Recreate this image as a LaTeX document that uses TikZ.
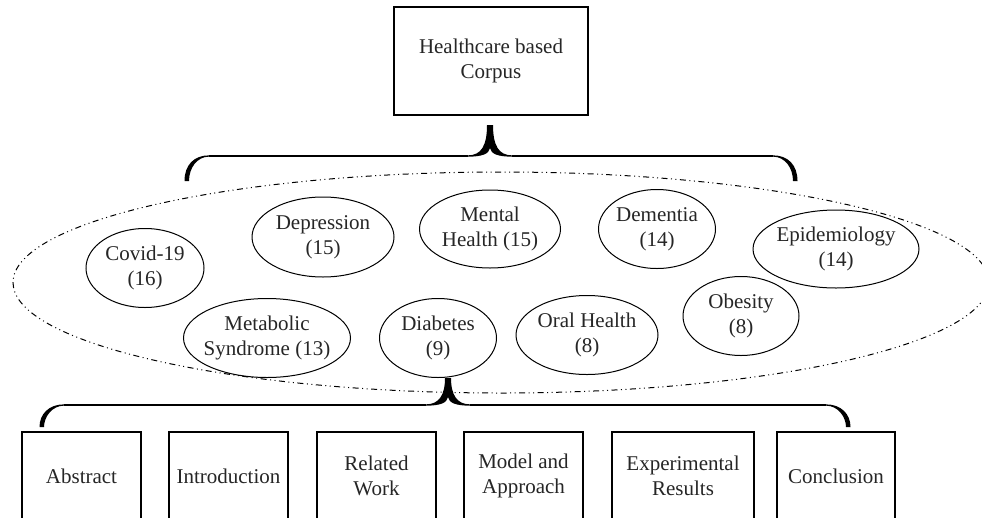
\documentclass[tikz,border=0pt]{standalone}
\usepackage{fontspec}
\setmainfont{Liberation Serif}
\usetikzlibrary{shapes.geometric}
% #1 left x, #2 right x, #3 cusp x, #4 line y, #5 tip y, #6 end y
\newcommand{\curlybrace}[6]{%
  \draw[braceline] (#1+24,#4) -- (#3-22,#4) (#3+22,#4) -- (#2-24,#4);
  \fill (#1+24,#4-0.65) .. controls (#1+9,#4-0.65) and (#1-0.5,#4+9) .. (#1-0.5,#6)
     -- (#1+4,#6) .. controls (#1+4,#4+12) and (#1+12,#4+0.65) .. (#1+24,#4+0.65) -- cycle;
  \fill (#2-24,#4-0.65) .. controls (#2-9,#4-0.65) and (#2+0.5,#4+9) .. (#2+0.5,#6)
     -- (#2-4,#6) .. controls (#2-4,#4+12) and (#2-12,#4+0.65) .. (#2-24,#4+0.65) -- cycle;
  \fill (#3-22,#4-0.65) .. controls (#3-9,#4-0.65) and (#3-3,#4-10) .. (#3-3,#5)
     -- (#3+3,#5) .. controls (#3+3,#4-10) and (#3+9,#4-0.65) .. (#3+22,#4-0.65)
     -- (#3+22,#4+0.65) .. controls (#3+8,#4+0.65) and (#3+1,#4-2) .. (#3,#4-8)
     .. controls (#3-1,#4-2) and (#3-8,#4+0.65) .. (#3-22,#4+0.65) -- cycle;
}
\tikzset{
  every node/.style={font=\fontsize{21}{25}\selectfont, text=black!85},
  box/.style={draw, line width=1.1pt, rectangle, inner sep=0pt, align=center},
  topic/.style n args={2}{draw, line width=1pt, ellipse, inner sep=0pt,
     minimum width=#1pt, minimum height=#2pt},
  lbl/.style={align=center, inner sep=0pt, label distance=0pt},
  corpusring/.style={draw, ellipse, inner sep=0pt, line width=1pt,
     dash pattern=on 6pt off 3.5pt on 1pt off 3.5pt on 1pt off 3.5pt},
  braceline/.style={line width=1.3pt}
}
\begin{document}
\begin{tikzpicture}[x=1pt,y=-1pt]
\useasboundingbox (0,0) rectangle (982,517);
\clip (0,0) rectangle (982,517);
\fill[white] (0,0) rectangle (982,517);

% top box
\node[box, minimum width=194pt, minimum height=108pt] (hc) at (491,61) {Healthcare based\\Corpus};

% big dash-dot ellipse
\node[corpusring, minimum width=976pt, minimum height=221pt] (ring) at (501,282.5) {};

% braces
\curlybrace{185}{797}{490}{156}{125}{181}
\curlybrace{40}{850}{448}{405}{378}{427}

% topics
\node[topic={118}{79}, label={[lbl,name=covt]center:Covid-19\\(16)}] (cov) at (145,268) {};
\node[topic={142}{80}, label={[lbl,name=dept]center:Depression\\(15)}] (dep) at (323,237) {};
\node[topic={141}{78}, label={[lbl,name=ment]center:Mental\\Health (15)}] (men) at (490,229) {};
\node[topic={117}{79}, label={[lbl,name=demt]center:Dementia\\(14)}] (dem) at (657,229) {};
\node[topic={166}{78}, label={[lbl,name=epit]center:Epidemiology\\(14)}] (epi) at (836,249) {};
\node[topic={167}{79}, label={[lbl,name=mett]center:Metabolic\\Syndrome (13)}] (met) at (267,338) {};
\node[topic={117}{79}, label={[lbl,name=diat]center:Diabetes\\(9)}] (dia) at (438,338) {};
\node[topic={142}{79}, label={[lbl,name=orat]center:Oral Health\\(8)}] (ora) at (587,335) {};
\node[topic={116}{79}, label={[lbl,name=obet]center:Obesity\\(8)}] (obe) at (741,316) {};

% bottom boxes
\node[box, minimum width=119pt, minimum height=88pt] (abs) at (81.5,476) {Abstract};
\node[box, minimum width=119pt, minimum height=88pt] (intro) at (228.5,476) {Introduction};
\node[box, minimum width=119pt, minimum height=88pt] (rel) at (376.5,476) {Related\\Work};
\node[box, minimum width=119pt, minimum height=88pt] (mod) at (523.5,476) {Model and\\Approach};
\node[box, minimum width=142pt, minimum height=88pt] (exp) at (683,476) {Experimental\\Results};
\node[box, minimum width=118pt, minimum height=88pt] (con) at (836,476) {Conclusion};
\end{tikzpicture}
\end{document}
